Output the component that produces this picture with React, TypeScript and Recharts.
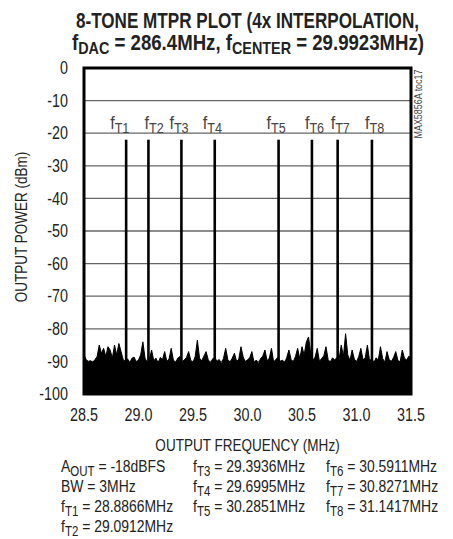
import React from 'react';
import {
  ComposedChart,
  Area,
  XAxis,
  YAxis,
  CartesianGrid,
  ReferenceLine,
  ReferenceArea,
} from 'recharts';

// ---- data ----
const xTicks = [28.5, 29.0, 29.5, 30.0, 30.5, 31.0, 31.5];
const yTicks = [0, -10, -20, -30, -40, -50, -60, -70, -80, -90, -100];

const toneNames = ['T1', 'T2', 'T3', 'T4', 'T5', 'T6', 'T7', 'T8'];
const toneFreqs = [28.8866, 29.0912, 29.3936, 29.6995, 30.2851, 30.5911, 30.8271, 31.1417];
const toneLevels = [-22, -22, -22, -22, -22, -22, -22, -22];

const noiseStart = 28.5;
const noiseStep = 0.02;
const noiseLevels = [
  -88, -89.5, -90, -89.8, -90.3, -89.5, -88.5, -85, -87.5, -86,
  -88.5, -85.5, -86.5, -89, -85, -88, -84.5, -87, -89.5, -90,
  -89.2, -90.5, -89, -88.7, -90.2, -89.5, -88, -84, -89, -90.3,
  -89.4, -86.5, -89.8, -89, -90.5, -88.8, -89.5, -87, -90, -89.3,
  -86, -89.6, -90.4, -89, -88.5, -90.2, -89.5, -88.8, -87, -89.7,
  -90.3, -88.5, -83.5, -89, -89.8, -88.4, -87, -89.5, -90.6, -89.2,
  -88.8, -90, -89.4, -90.8, -89, -86, -89.5, -90.2, -89, -87.5,
  -90, -89.3, -85.5, -88.6, -90.1, -89.5, -88.9, -87, -90.3, -89.6,
  -90.7, -89.1, -88.4, -86.5, -89.8, -89, -86, -90.2, -89.4, -88.7,
  -90, -89.6, -90.5, -88.8, -86.5, -89.4, -90.1, -88.5, -86, -89.2,
  -85.5, -88, -84, -82.5, -87.5, -89.6, -88.7, -86, -90, -89.1,
  -88.3, -85.5, -89.5, -90.2, -88.9, -89.6, -88.8, -89.4, -85, -88.5,
  -81.5, -88, -89.7, -86.5, -89.3, -90.1, -88.6, -86, -89.5, -88.9,
  -85, -89.8, -89.2, -90.4, -88.9, -89.6, -85.5, -89.1, -90.3, -87,
  -89.5, -90, -88.8, -87, -89.7, -90.2, -86.5, -89, -89.6, -88.4,
  -89,
];

const noiseData = noiseLevels.map((p, i) => ({ f: +(noiseStart + i * noiseStep).toFixed(3), p }));

// ---- style ----
const FONT = '"Liberation Sans", Arial, sans-serif';
const TEXT = '#222';
const SX = 0.82;
const labelNudge = [-16, -4, -12, -12, -12, -7, -7, -7];

type NTextProps = {
  x: number;
  y: number;
  size: number;
  anchor?: 'start' | 'middle' | 'end';
  sx?: number;
  rotate?: number;
  weight?: string;
  fill?: string;
  dy?: string | number;
  children?: React.ReactNode;
};

const NText = ({ x, y, size, anchor = 'start', sx = SX, rotate = 0, weight, fill = TEXT, dy, children }: NTextProps) => (
  <text
    transform={`translate(${x} ${y})${rotate ? ` rotate(${rotate})` : ''} scale(${sx} 1)`}
    textAnchor={anchor}
    fontSize={size}
    fontFamily={FONT}
    fontWeight={weight}
    fill={fill}
    dy={dy}
  >
    {children}
  </text>
);

const Sub = ({ children, size = 14 }: { children: React.ReactNode; size?: number }) => (
  <tspan dy={4} fontSize={size}>{children}</tspan>
);
const Up = ({ children }: { children: React.ReactNode }) => <tspan dy={-4}>{children}</tspan>;

const XTick = (props: any) => (
  <NText x={props.x} y={props.y} anchor="middle" size={17.5} dy="0.71em">
    {Number(props.payload.value).toFixed(1)}
  </NText>
);

const YTick = (props: any) => (
  <NText x={props.x} y={props.y} anchor="end" size={17.5} dy="0.355em">
    {String(props.payload.value)}
  </NText>
);

const ToneLabel = (name: string, nudge: number) => (props: any) => {
  const vb = props.viewBox || {};
  return (
    <NText x={vb.x + nudge} y={vb.y - 11} size={18} sx={0.9} fill="#444">
      f<Sub>{name}</Sub>
    </NText>
  );
};

export default function App() {
  return (
    <div style={{ position: 'absolute', left: 0, top: 0, width: 453, height: 539, background: '#fff' }}>
      <ComposedChart
        width={453}
        height={539}
        data={noiseData}
        margin={{ top: 68, right: 42, left: 0, bottom: 0 }}
      >
        <CartesianGrid vertical={false} stroke="#666" strokeWidth={1.3} />
        <XAxis
          type="number"
          dataKey="f"
          domain={[28.5, 31.5]}
          ticks={xTicks}
          allowDataOverflow
          axisLine={false}
          tickLine={false}
          tickSize={6}
          tickMargin={9}
          height={145}
          tick={<XTick />}
        />
        <YAxis
          type="number"
          domain={[-100, 0]}
          ticks={yTicks}
          allowDataOverflow
          axisLine={false}
          tickLine={false}
          tickSize={6}
          tickMargin={10}
          width={84}
          tick={<YTick />}
        />
        <Area
          type="linear"
          dataKey="p"
          baseValue={-100}
          stroke="#000"
          strokeWidth={1}
          fill="#000"
          fillOpacity={1}
          isAnimationActive={false}
          dot={false}
          activeDot={false}
        />
        {toneFreqs.map((f, i) => (
          <ReferenceLine
            key={toneNames[i]}
            segment={[
              { x: f, y: -100 },
              { x: f, y: toneLevels[i] },
            ]}
            stroke="#000"
            strokeWidth={2.6}
            label={{ content: ToneLabel(toneNames[i], labelNudge[i]) }}
          />
        ))}
        <ReferenceArea
          x1={28.5}
          x2={31.5}
          y1={-100}
          y2={0}
          fill="none"
          fillOpacity={0}
          stroke="#000"
          strokeWidth={3}
        />
      </ComposedChart>
      <svg
        width={453}
        height={539}
        style={{ position: 'absolute', left: 0, top: 0, pointerEvents: 'none' }}
      >
        <g fontFamily={FONT} fill={TEXT}>
          <text
            x={247.5}
            y={28}
            textAnchor="middle"
            fontWeight="bold"
            fontSize={22}
            textLength={343}
            lengthAdjust="spacingAndGlyphs"
          >
            8-TONE MTPR PLOT (4x INTERPOLATION,
          </text>
          <text x={72} y={50} fontWeight="bold" fontSize={22} textLength={352} lengthAdjust="spacingAndGlyphs">
            f<tspan dy={4} fontSize={17}>DAC</tspan>
            <tspan dy={-4}> = 286.4MHz, f</tspan>
            <tspan dy={4} fontSize={17}>CENTER</tspan>
            <tspan dy={-4}> = 29.9923MHz)</tspan>
          </text>
        </g>
        <NText x={422} y={104} rotate={-90} anchor="middle" size={10.5} fill="#444" sx={0.85}>
          MAX5856A toc17
        </NText>
        <NText x={27} y={227} rotate={-90} anchor="middle" size={16.5}>
          OUTPUT POWER (dBm)
        </NText>
        <NText x={247.5} y={451} anchor="middle" size={16.5}>
          OUTPUT FREQUENCY (MHz)
        </NText>

        <NText x={61} y={472} size={17}>
          A<Sub>OUT</Sub><Up> = -18dBFS</Up>
        </NText>
        <NText x={61} y={492} size={17}>BW = 3MHz</NText>
        <NText x={61} y={512} size={17}>
          f<Sub>T1</Sub><Up> = 28.8866MHz</Up>
        </NText>
        <NText x={61} y={532} size={17}>
          f<Sub>T2</Sub><Up> = 29.0912MHz</Up>
        </NText>

        <NText x={193} y={472} size={17}>
          f<Sub>T3</Sub><Up> = 29.3936MHz</Up>
        </NText>
        <NText x={193} y={492} size={17}>
          f<Sub>T4</Sub><Up> = 29.6995MHz</Up>
        </NText>
        <NText x={193} y={512} size={17}>
          f<Sub>T5</Sub><Up> = 30.2851MHz</Up>
        </NText>

        <NText x={326} y={472} size={17}>
          f<Sub>T6</Sub><Up> = 30.5911MHz</Up>
        </NText>
        <NText x={326} y={492} size={17}>
          f<Sub>T7</Sub><Up> = 30.8271MHz</Up>
        </NText>
        <NText x={326} y={512} size={17}>
          f<Sub>T8</Sub><Up> = 31.1417MHz</Up>
        </NText>
      </svg>
    </div>
  );
}
